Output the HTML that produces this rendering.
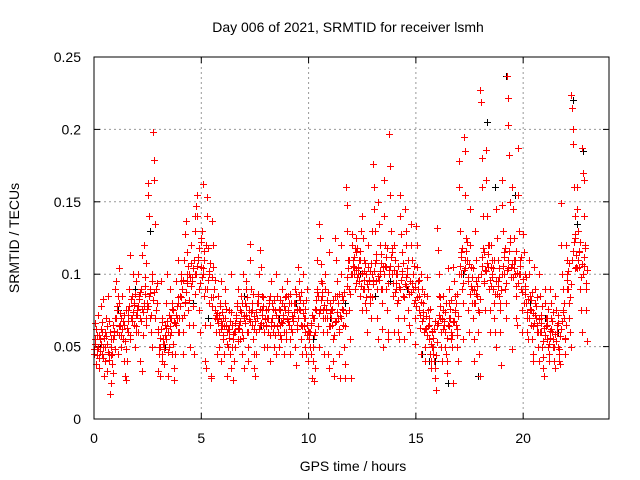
<!DOCTYPE html>
<html><head><meta charset="utf-8"><style>
html,body{margin:0;padding:0;background:#fff}
svg{display:block;font-family:"Liberation Sans",sans-serif}
</style></head><body>
<svg id="chart" width="640" height="480" viewBox="0 0 640 480">
<rect width="640" height="480" fill="#fff"/>
<text x="348" y="32" font-size="14" text-anchor="middle">Day 006 of 2021, SRMTID for receiver lsmh</text>
<text x="353" y="471" font-size="14" text-anchor="middle">GPS time / hours</text>
<text x="0" y="0" font-size="14" text-anchor="middle" transform="translate(19,238) rotate(-90)">SRMTID / TECUs</text>
<g id="grid"></g>
<g id="ticks"></g>
<g id="black"></g>
<g id="red"></g>
<rect x="94" y="57" width="515" height="362" fill="none" stroke="#000" stroke-width="1"/>
</svg>
<script>
const xTicks=[0,5,10,15,20];
const yTicks=[0,0.05,0.1,0.15,0.2,0.25];
const yTickLabels=["0","0.05","0.1","0.15","0.2","0.25"];
const binStart=[0,0.25,0.5,0.75,1,1.25,1.5,1.75,2,2.25,2.5,2.75,3,3.25,3.5,3.75,4,4.25,4.5,4.75,5,5.25,5.5,5.75,6,6.25,6.5,6.75,7,7.25,7.5,7.75,8,8.25,8.5,8.75,9,9.25,9.5,9.75,10,10.25,10.5,10.75,11,11.25,11.5,11.75,12,12.25,12.5,12.75,13,13.25,13.5,13.75,14,14.25,14.5,14.75,15,15.25,15.5,15.75,16,16.25,16.5,16.75,17,17.25,17.5,17.75,18,18.25,18.5,18.75,19,19.25,19.5,19.75,20,20.25,20.5,20.75,21,21.25,21.5,21.75,22,22.25,22.5,22.75];
const redValues=[
[.045,.052,.066,.038,.058,.048,.072,.042],[.035,.055,.078,.062,.045,.083,.05,.03],[.04,.06,.07,.033,.052,.085,.045,.068],[.017,.025,.055,.045,.065,.032,.058,.07],
[.09,.095,.075,.06,.045,.08,.104,.065],[.05,.07,.085,.055,.04,.065,.03,.075],[.027,.04,.06,.075,.09,.113,.055,.07],[.07,.085,.1,.065,.08,.05,.06,.095],
[.075,.1,.06,.085,.04,.07,.09,.113],[.033,.058,.078,.12,.098,.065,.108,.08],[.163,.155,.14,.087,.07,.06,.1,.05],[.198,.179,.165,.135,.09,.075,.08,.033],
[.06,.045,.03,.05,.095,.07,.04,.055],[.038,.048,.065,.08,.055,.1,.03,.06],[.05,.07,.09,.06,.045,.08,.075,.035],[.027,.045,.065,.095,.07,.11,.08,.06],
[.085,.095,.1,.07,.06,.045,.11,.08],[.128,.137,.115,.095,.075,.065,.1,.05],[.108,.12,.095,.078,.065,.045,.13,.14],[.147,.155,.14,.11,.09,.075,.06,.105],
[.125,.13,.162,.1,.085,.065,.04,.035],[.153,.14,.118,.1,.08,.065,.03,.028],[.137,.12,.105,.09,.075,.07,.06,.045],[.073,.085,.06,.05,.08,.095,.04,.065],
[.07,.055,.045,.08,.09,.065,.03,.06],[.05,.06,.075,.045,.1,.035,.065,.055],[.027,.04,.05,.06,.07,.08,.09,.055],[.065,.055,.075,.085,.045,.06,.1,.035],
[.07,.08,.09,.095,.06,.05,.04,.075],[.121,.11,.09,.075,.065,.055,.045,.035],[.03,.045,.06,.07,.08,.085,.1,.065],[.117,.105,.085,.075,.065,.05,.06,.07],
[.065,.075,.05,.06,.07,.08,.04,.085],[.095,.08,.07,.06,.05,.065,.075,.045],[.1,.085,.07,.06,.05,.075,.065,.055],[.09,.08,.07,.06,.045,.075,.085,.055],
[.095,.085,.075,.065,.055,.045,.08,.07],[.06,.07,.08,.09,.05,.037,.075,.065],[.105,.095,.085,.075,.065,.055,.045,.1],[.08,.07,.06,.05,.045,.065,.09,.04],
[.06,.055,.05,.045,.065,.028,.04,.07],[.026,.035,.06,.075,.09,.11,.085,.05],[.135,.125,.107,.095,.085,.075,.06,.045],[.1,.09,.075,.07,.06,.045,.035,.115],
[.08,.07,.075,.065,.055,.04,.03,.085],[.125,.11,.095,.085,.07,.06,.045,.028],[.12,.1,.085,.075,.065,.05,.038,.028],[.16,.148,.13,.11,.09,.075,.055,.028],
[.128,.12,.11,.1,.105,.09,.115,.125],[.118,.105,.1,.095,.085,.11,.13,.075],[.14,.125,.11,.09,.08,.075,.1,.06],[.12,.105,.095,.085,.08,.07,.1,.13],
[.176,.16,.145,.13,.11,.095,.07,.055],[.15,.135,.12,.1,.09,.08,.062,.05],[.165,.14,.12,.105,.09,.075,.06,.055],[.197,.175,.155,.13,.115,.1,.085,.06],
[.12,.11,.1,.09,.08,.07,.06,.055],[.155,.14,.128,.115,.1,.085,.07,.055],[.145,.13,.12,.1,.09,.075,.065,.06],[.135,.12,.11,.1,.09,.08,.07,.052],
[.133,.12,.105,.095,.085,.075,.063,.045],[.1,.09,.08,.07,.06,.05,.04,.063],[.098,.085,.075,.065,.055,.045,.04,.035],[.06,.05,.045,.04,.035,.028,.02,.065],
[.132,.117,.1,.085,.07,.06,.05,.04],[.085,.075,.065,.06,.05,.045,.04,.032],[.104,.09,.08,.07,.06,.055,.05,.025],[.105,.095,.085,.075,.065,.058,.05,.04],
[.178,.16,.13,.115,.1,.09,.08,.055],[.195,.185,.155,.125,.11,.095,.075,.06],[.145,.12,.105,.09,.08,.07,.055,.04],[.13,.11,.095,.085,.075,.06,.045,.03],
[.227,.219,.18,.16,.14,.115,.095,.075],[.186,.165,.14,.12,.105,.09,.075,.06],[.12,.11,.1,.09,.08,.07,.06,.05],[.145,.125,.11,.095,.085,.075,.06,.037],
[.165,.148,.13,.115,.1,.09,.08,.07],[.237,.222,.203,.182,.15,.125,.105,.048],[.16,.145,.125,.11,.1,.085,.07,.065],[.187,.155,.13,.11,.1,.09,.075,.06],
[.128,.115,.1,.09,.08,.07,.06,.055],[.11,.1,.085,.075,.065,.055,.045,.04],[.105,.09,.08,.07,.065,.06,.05,.04],[.1,.085,.07,.06,.05,.043,.035,.03],
[.09,.08,.07,.065,.055,.05,.045,.04],[.09,.08,.07,.06,.055,.05,.04,.035],[.085,.075,.065,.06,.05,.045,.04,.038],[.149,.12,.1,.09,.075,.07,.055,.045],
[.12,.11,.1,.09,.08,.07,.06,.05],[.224,.215,.2,.19,.16,.14,.125,.105],[.16,.145,.13,.115,.105,.09,.075,.06],[.187,.17,.165,.14,.12,.09,.075,.054]];
const redCore=[
[.048,.055,.062,.044,.05,.058],[.047,.052,.06,.067,.042,.056],[.05,.057,.064,.046,.041,.06],[.044,.05,.038,.055,.061,.048],
[.07,.078,.085,.064,.058,.073],[.058,.062,.068,.072,.054,.048],[.063,.068,.072,.078,.058,.083],[.068,.074,.079,.086,.064,.072],
[.072,.078,.083,.088,.068,.076],[.074,.08,.086,.092,.07,.076],[.078,.085,.09,.072,.095,.082],[.082,.088,.07,.075,.094,.062],
[.05,.056,.062,.067,.045,.052],[.052,.058,.063,.068,.046,.072],[.058,.064,.07,.076,.052,.067],[.066,.072,.078,.084,.06,.07],
[.078,.084,.09,.096,.072,.081],[.088,.094,.1,.106,.082,.098],[.092,.098,.104,.11,.086,.1],[.1,.106,.112,.118,.094,.122],
[.098,.104,.11,.116,.09,.12],[.09,.096,.102,.108,.084,.098],[.078,.084,.09,.096,.072,.069],[.066,.072,.078,.062,.068,.074],
[.058,.064,.07,.076,.052,.062],[.056,.062,.068,.074,.05,.059],[.06,.066,.072,.078,.054,.063],[.062,.068,.074,.08,.056,.071],
[.066,.072,.078,.084,.06,.069],[.068,.074,.08,.086,.062,.071],[.068,.074,.08,.086,.062,.076],[.066,.072,.078,.084,.06,.069],
[.064,.07,.076,.082,.058,.067],[.064,.07,.076,.082,.058,.072],[.064,.07,.076,.082,.058,.067],[.066,.072,.078,.084,.06,.069],
[.068,.074,.08,.086,.062,.071],[.068,.074,.08,.086,.062,.076],[.07,.076,.082,.088,.064,.073],[.064,.07,.076,.082,.058,.061],
[.055,.06,.066,.072,.05,.058],[.07,.076,.082,.088,.064,.073],[.076,.082,.088,.094,.07,.079],[.07,.076,.082,.088,.064,.073],
[.064,.07,.076,.082,.058,.067],[.068,.074,.08,.086,.062,.071],[.07,.076,.082,.088,.064,.073],[.092,.098,.104,.11,.086,.1],
[.1,.106,.112,.118,.094,.103],[.098,.104,.11,.116,.092,.101],[.09,.096,.102,.108,.084,.093],[.09,.096,.102,.108,.084,.093],
[.096,.102,.108,.114,.09,.099],[.096,.102,.108,.114,.09,.105],[.1,.106,.112,.118,.094,.103],[.1,.106,.112,.118,.094,.103],
[.088,.094,.1,.106,.082,.091],[.09,.096,.102,.108,.084,.093],[.092,.098,.104,.11,.086,.095],[.088,.094,.1,.106,.082,.091],
[.078,.084,.09,.096,.072,.081],[.068,.074,.08,.086,.062,.071],[.058,.064,.07,.076,.052,.061],[.05,.056,.062,.068,.044,.053],
[.066,.072,.078,.084,.06,.069],[.062,.068,.074,.08,.056,.065],[.064,.07,.076,.082,.058,.067],[.068,.074,.08,.086,.062,.071],
[.1,.106,.112,.118,.094,.103],[.104,.11,.116,.122,.098,.107],[.086,.092,.098,.104,.08,.089],[.08,.086,.092,.098,.074,.083],
[.1,.106,.112,.118,.094,.103],[.102,.108,.114,.12,.096,.105],[.092,.098,.104,.11,.086,.095],[.086,.092,.098,.104,.08,.089],
[.1,.106,.112,.118,.094,.103],[.104,.11,.116,.122,.098,.107],[.098,.104,.11,.116,.092,.101],[.094,.1,.106,.112,.088,.097],
[.08,.086,.092,.098,.074,.083],[.07,.076,.082,.088,.064,.073],[.066,.072,.078,.084,.06,.069],[.06,.066,.072,.078,.054,.063],
[.058,.064,.07,.076,.052,.061],[.056,.062,.068,.074,.05,.059],[.054,.06,.066,.072,.048,.057],[.062,.068,.074,.08,.056,.065],
[.09,.096,.102,.108,.084,.093],[.11,.116,.122,.128,.104,.113],[.104,.11,.116,.122,.098,.107],[.1,.106,.112,.118,.094,.103]];
const blackTimes=[0.3,1.1,1.9,2.6,3.3,4.1,4.6,5.3,6.2,7.0,7.8,8.6,9.4,10.2,11.0,11.7,12.4,13.1,13.8,14.6,15.3,15.6,15.9,16.5,17.2,17.9,18.3,18.7,19.2,19.6,20.3,21.0,21.6,22.3,22.5,22.8,22.9];
const blackValues=[0.05,0.075,0.09,0.13,0.05,0.09,0.08,0.07,0.06,0.085,0.065,0.07,0.08,0.055,0.07,0.08,0.1,0.085,0.095,0.09,0.045,0.04,0.04,0.025,0.1,0.03,0.205,0.16,0.237,0.155,0.08,0.07,0.06,0.22,0.135,0.185,0.12];
const X0=94,X1=609,Y0=419,Y1=57,XMAX=24,YMAX=0.25;
const xs=t=>X0+(t/XMAX)*(X1-X0);
const ys=v=>Y0-(v/YMAX)*(Y0-Y1);
const NS='http://www.w3.org/2000/svg';
function mk(tag,attrs,parent){const e=document.createElementNS(NS,tag);for(const k in attrs)e.setAttribute(k,attrs[k]);parent.appendChild(e);return e;}
const grid=document.getElementById('grid'),ticks=document.getElementById('ticks');
xTicks.forEach(t=>{
 const x=xs(t);
 if(t>0){const g=mk('line',{x1:x,x2:x,y1:Y1,y2:Y0,stroke:'#999','stroke-dasharray':'2,3'},grid);
 
 }
 mk('line',{x1:x,x2:x,y1:Y0,y2:Y0-6,stroke:'#000'},ticks);
 mk('line',{x1:x,x2:x,y1:Y1,y2:Y1+6,stroke:'#000'},ticks);
 const l=mk('text',{x:x,y:443,'font-size':14,'text-anchor':'middle'},ticks);
 l.textContent=String(t);
 
 
});
yTicks.forEach((v,i)=>{
 const y=ys(v);
 if(v>0&&v<YMAX){const g=mk('line',{x1:X0,x2:X1,y1:y,y2:y,stroke:'#999','stroke-dasharray':'2,3'},grid);
 
 }
 mk('line',{x1:X0,x2:X0+6,y1:y,y2:y,stroke:'#000'},ticks);
 mk('line',{x1:X1,x2:X1-6,y1:y,y2:y,stroke:'#000'},ticks);
 const l=mk('text',{x:81,y:y+5,'font-size':14,'text-anchor':'end'},ticks);
 l.textContent=yTickLabels[i];
 
 
});
function plus(g,t,v,color,name){
 const x=Math.round(xs(t))+0.5,y=Math.round(ys(v))+0.5;
 const p=mk('path',{d:`M${x-3.5},${y}H${x+3.5}M${x},${y-3.5}V${y+3.5}`,stroke:color,'stroke-width':1,fill:'none'},g);
 
 
}
const bg=document.getElementById('black');
blackTimes.forEach((t,i)=>plus(bg,t,blackValues[i],'#000','black-point'));
const rg=document.getElementById('red');
binStart.forEach((t,i)=>{
 const vals=redValues[i];
 vals.forEach((v,j)=>plus(rg,t+(j/vals.length)*0.25,v,'#f00','red-point'));
 const core=redCore[i];
 core.forEach((v,j)=>plus(rg,t+((j+0.5)/core.length)*0.25,v,'#f00','red-point'));
});
</script>
</body></html>
